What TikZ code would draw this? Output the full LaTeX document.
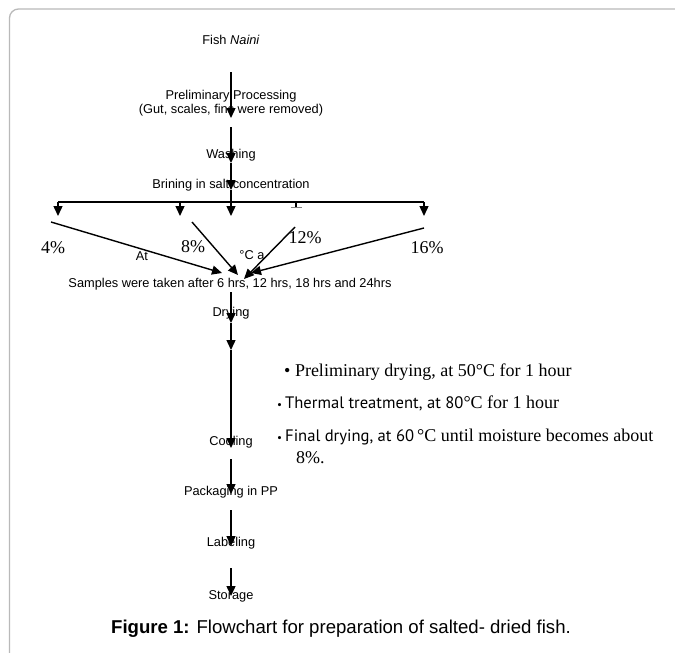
\documentclass[tikz,border=0pt]{standalone}
\usepackage{fontspec}
\setmainfont{Liberation Sans}
\newfontfamily\tms{Liberation Serif}
\newfontfamily\myr{PT Sans}
\usetikzlibrary{arrows.meta}
\begin{document}
\begin{tikzpicture}[x=1pt,y=-1pt,
 lbl/.style={inner sep=0pt, font=\fontsize{12.8}{14.5}\selectfont, align=center},
 pct/.style={inner sep=0pt, font=\tms\fontsize{18}{20}\selectfont},
 bul/.style={inner sep=0pt, anchor=west, font=\tms\fontsize{18}{20}\selectfont},
 sansbit/.style={},
 flow/.style={line width=1.4pt, -{Triangle[length=10pt,width=9pt]}},
 plainline/.style={line width=1.4pt},
 frame/.style={draw=gray!55, line width=1.3pt}]
\useasboundingbox (0,0) rectangle (675,653);
\draw[frame] (9.5,653) -- (9.5,18) arc[start angle=180,end angle=270,radius=9] -- (675,9);

% texts
\node[lbl] (fish) at (231,40) {Fish \textit{Naini}};
\node[lbl] (prep) at (231,103) {Preliminary Processing\\(Gut, scales, fins were removed)};
\node[lbl] (wash) at (231,155) {Washing};
\node[lbl] (brine) at (231,185) {Brining in salt concentration};
\node[pct] (p4) at (53,248) {4\%};
\node[pct] (p8) at (193,247) {8\%};
\node[pct] (p12) at (305,238) {12\%};
\node[pct] (p16) at (427,248) {16\%};
\node[lbl] (at) at (142,256) {At};
\node[lbl] (degc) at (252,255) {°C a};
\node[lbl] (samp) at (230,284) {Samples were taken after 6 hrs, 12 hrs, 18 hrs and 24hrs};
\node[lbl] (dry) at (231,313) {Drying};
\node[lbl] (cool) at (231,442) {Cooling};
\node[lbl] (pack) at (231,492) {Packaging in PP};
\node[lbl] (label) at (231,543) {Labeling};
\node[lbl] (stor) at (231,596) {Storage};
\node[bul] (b1) at (284,372) {\textbullet\ Preliminary drying, at 50°C for 1 hour};
\node[bul] (b2) at (277,403) {{\myr\fontsize{11}{11}\selectfont •}\,{\myr\fontsize{16.6}{18}\selectfont Thermal treatment, at 80}°C for 1 hour};
\node[bul] (b3) at (277,437) {{\myr\fontsize{11}{11}\selectfont •}\,{\myr\fontsize{16.6}{18}\selectfont Final drying, at 60}\,°C until moisture becomes about};
\node[bul] (b3b) at (296,458) {8\%.};
\node[inner sep=0pt, font=\fontsize{18.6}{20}\selectfont] (cap) at (341,629) {\textbf{Figure 1:} Flowchart for preparation of salted- dried fish.};

% coordinates
\coordinate (a1s) at (231,72);  \coordinate (a1e) at (231,118);
\coordinate (a2s) at (231,127); \coordinate (a2e) at (231,163);
\coordinate (a3e) at (231,190);
\coordinate (hl) at (58,202);   \coordinate (hr) at (424,202);
\coordinate (h8) at (180,202);
\coordinate (h12) at (296,202);
\coordinate (t4) at (58,216); \coordinate (t8) at (180,216); \coordinate (tc) at (231,216); \coordinate (t16) at (424,216);
\coordinate (stub) at (296,207);
\coordinate (d4s) at (51,222);  \coordinate (d4e) at (222,273);
\coordinate (d8s) at (192,222); \coordinate (d8e) at (238,275);
\coordinate (d12s) at (295,227); \coordinate (d12e) at (244,279);
\coordinate (d16s) at (424,228); \coordinate (d16e) at (251,273);
\coordinate (e1s) at (231,292); \coordinate (e1e) at (231,323);
\coordinate (e2e) at (231,350); \coordinate (e3e) at (231,448);
\coordinate (f1s) at (231,459); \coordinate (f1e) at (231,494);
\coordinate (f2s) at (231,510); \coordinate (f2e) at (231,546);
\coordinate (f3s) at (231,568); \coordinate (f3e) at (231,596);

% connectors
\draw[flow] (a1s) -- (a1e);
\draw[flow] (a2s) -- (a2e);
\draw[flow] (a2e) -- (a3e);
\draw[flow] (a3e) -- (tc);
\draw[plainline] (hl) -- (hr);
\draw[flow] (hl) -- (t4);
\draw[flow] (h8) -- (t8);
\draw[flow] (hr) -- (t16);
\draw[plainline] (h12) -- (stub);
\draw[gray, line width=1pt] ([xshift=-5.5pt]stub) -- ([xshift=5.5pt]stub);
\draw[flow] (d4s) -- (d4e);
\draw[flow] (d8s) -- (d8e);
\draw[flow] (d12s) -- (d12e);
\draw[flow] (d16s) -- (d16e);
\draw[flow] (e1s) -- (e1e);
\draw[flow] (e1e) -- (e2e);
\draw[flow] (e2e) -- (e3e);
\draw[flow] (f1s) -- (f1e);
\draw[flow] (f2s) -- (f2e);
\draw[flow] (f3s) -- (f3e);
\end{tikzpicture}
\end{document}
